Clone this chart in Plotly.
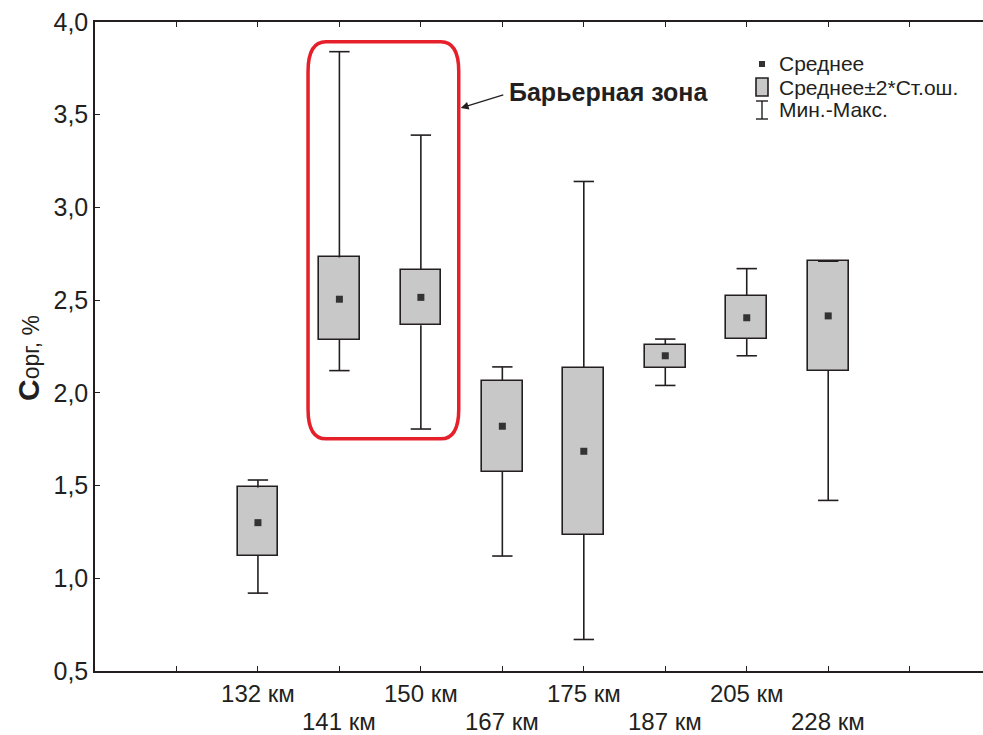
import plotly.graph_objects as go

categories = ["132 км", "141 км", "150 км", "167 км", "175 км", "187 км", "205 км", "228 км"]
positions = [2, 3, 4, 5, 6, 7, 8, 9]
mean_vals = [1.30, 2.505, 2.515, 1.82, 1.685, 2.20, 2.405, 2.415]
box_low = [1.12, 2.285, 2.365, 1.575, 1.235, 2.135, 2.29, 2.12]
box_high = [1.49, 2.73, 2.665, 2.065, 2.135, 2.26, 2.525, 2.71]
min_vals = [0.92, 2.12, 1.805, 1.12, 0.67, 2.04, 2.20, 1.42]
max_vals = [1.53, 3.84, 3.39, 2.14, 3.14, 2.29, 2.67, 2.71]
y_ticks = [0.5, 1.0, 1.5, 2.0, 2.5, 3.0, 3.5, 4.0]

W, H = 983, 735
ML, MR, MT, MB = 95, 0, 22, 64
FONT = "Liberation Sans, Arial, sans-serif"
INK = "#231f20"

fig = go.Figure()

# whiskers
wx, wy = [], []
for p, lo, hi, mn, mx in zip(positions, box_low, box_high, min_vals, max_vals):
    wx += [p, p, None, p, p, None]
    wy += [hi, mx, None, lo, mn, None]
cap = 0.125
cx, cy = [], []
for p, mn, mx in zip(positions, min_vals, max_vals):
    cx += [p - cap, p + cap, None, p - cap, p + cap, None]
    cy += [mx, mx, None, mn, mn, None]
fig.add_trace(go.Scatter(x=wx, y=wy, mode="lines", line=dict(color=INK, width=1.6),
                         showlegend=False, hoverinfo="skip"))
fig.add_trace(go.Scatter(x=cx, y=cy, mode="lines", line=dict(color=INK, width=1.6),
                         showlegend=False, hoverinfo="skip"))

# boxes
fig.add_trace(go.Bar(x=positions, y=[h - l for h, l in zip(box_high, box_low)], base=box_low,
                     width=0.5, marker=dict(color="#c8c8c8", line=dict(color=INK, width=1.6)),
                     showlegend=False))

# means
fig.add_trace(go.Scatter(x=positions, y=mean_vals, mode="markers",
                         marker=dict(symbol="square", size=7, color="#333333"),
                         showlegend=False))

# red rounded frame (data coords)
x0, x1, y0, y1 = 2.615, 4.465, 1.752, 3.893
rx, ry = 0.22, 0.16
path = (f"M {x0+rx},{y1} L {x1-rx},{y1} Q {x1},{y1} {x1},{y1-ry} "
        f"L {x1},{y0+ry} Q {x1},{y0} {x1-rx},{y0} L {x0+rx},{y0} Q {x0},{y0} {x0},{y0+ry} "
        f"L {x0},{y1-ry} Q {x0},{y1} {x0+rx},{y1} Z")
fig.add_shape(type="path", path=path, xref="x", yref="y",
              line=dict(color="#e5202a", width=3.5))

# arrow + text
fig.add_annotation(x=4.49, y=3.536, ax=5.03, ay=3.61, axref="x", ayref="y", xref="x", yref="y",
                   text="", showarrow=True, arrowhead=2, arrowsize=1.2, arrowwidth=1.3,
                   arrowcolor=INK)
fig.add_annotation(x=5.06, y=3.622, xref="x", yref="y", xanchor="left", yanchor="middle",
                   text="<b>Барьерная зона</b>", showarrow=False,
                   font=dict(family=FONT, size=25, color=INK))

# custom legend (pixel positions converted to paper)
def px(x):
    return (x - ML) / (W - ML - MR)

def py(y):
    return (H - MB - y) / (H - MT - MB)

fig.add_shape(type="rect", xref="paper", yref="paper", x0=px(759), x1=px(765), y0=py(67), y1=py(61),
              fillcolor="#333333", line=dict(width=0))
fig.add_shape(type="rect", xref="paper", yref="paper", x0=px(756), x1=px(768), y0=py(96), y1=py(78),
              fillcolor="#c8c8c8", line=dict(color=INK, width=1.6))
fig.add_shape(type="line", xref="paper", yref="paper", x0=px(762), x1=px(762), y0=py(119), y1=py(101),
              line=dict(color=INK, width=1.4))
fig.add_shape(type="line", xref="paper", yref="paper", x0=px(756), x1=px(768), y0=py(101), y1=py(101),
              line=dict(color=INK, width=1.4))
fig.add_shape(type="line", xref="paper", yref="paper", x0=px(756), x1=px(768), y0=py(119), y1=py(119),
              line=dict(color=INK, width=1.4))
for label, yy in [("Среднее", 64), ("Среднее±2*Ст.ош.", 87), ("Мин.-Макс.", 110)]:
    fig.add_annotation(x=px(777), y=py(yy), xref="paper", yref="paper", xanchor="left",
                       yanchor="middle", text=label, showarrow=False,
                       font=dict(family=FONT, size=21, color=INK))

# y-axis title
fig.add_annotation(x=px(28), y=py(358), xref="paper", yref="paper", textangle=-90,
                   xanchor="center", yanchor="middle", showarrow=False,
                   text="<b><span style='font-size:30px'>C</span></b>орг, %",
                   font=dict(family=FONT, size=23, color=INK))

# tick labels: upper row on axis, lower row as annotations
tickvals = list(range(1, 11))
ticktext = [""] + [c if i % 2 == 0 else "" for i, c in enumerate(categories)] + [""]
for i, (p, c) in enumerate(zip(positions, categories)):
    if i % 2 == 1:
        fig.add_annotation(x=p, y=py(721), xref="x", yref="paper", xanchor="center",
                           yanchor="middle", text=c, showarrow=False,
                           font=dict(family=FONT, size=24, color=INK))

fig.update_layout(
    width=W, height=H,
    margin=dict(l=ML, r=MR, t=MT, b=MB),
    plot_bgcolor="white", paper_bgcolor="white",
    separators=", ",
    showlegend=False,
    bargap=0,
    font=dict(family=FONT, size=24, color=INK),
    xaxis=dict(range=[0, 10.9], tickvals=tickvals, ticktext=ticktext, ticks="inside",
               ticklen=5, tickcolor=INK, showline=True, linecolor=INK, linewidth=1.5,
               mirror="ticks", showgrid=False, zeroline=False, automargin=False,
               tickfont=dict(family=FONT, size=24, color=INK)),
    yaxis=dict(range=[0.5, 4.0], tickvals=y_ticks, tickformat=".1f", ticks="inside",
               ticklen=5, tickcolor=INK, showline=True, linecolor=INK, linewidth=1.5,
               showgrid=False, zeroline=False, automargin=False,
               tickfont=dict(family=FONT, size=25, color=INK)),
)

fig.write_html("out.html", config={"displayModeBar": False},
               post_script="document.body.style.margin='0';document.body.style.overflow='hidden';")
